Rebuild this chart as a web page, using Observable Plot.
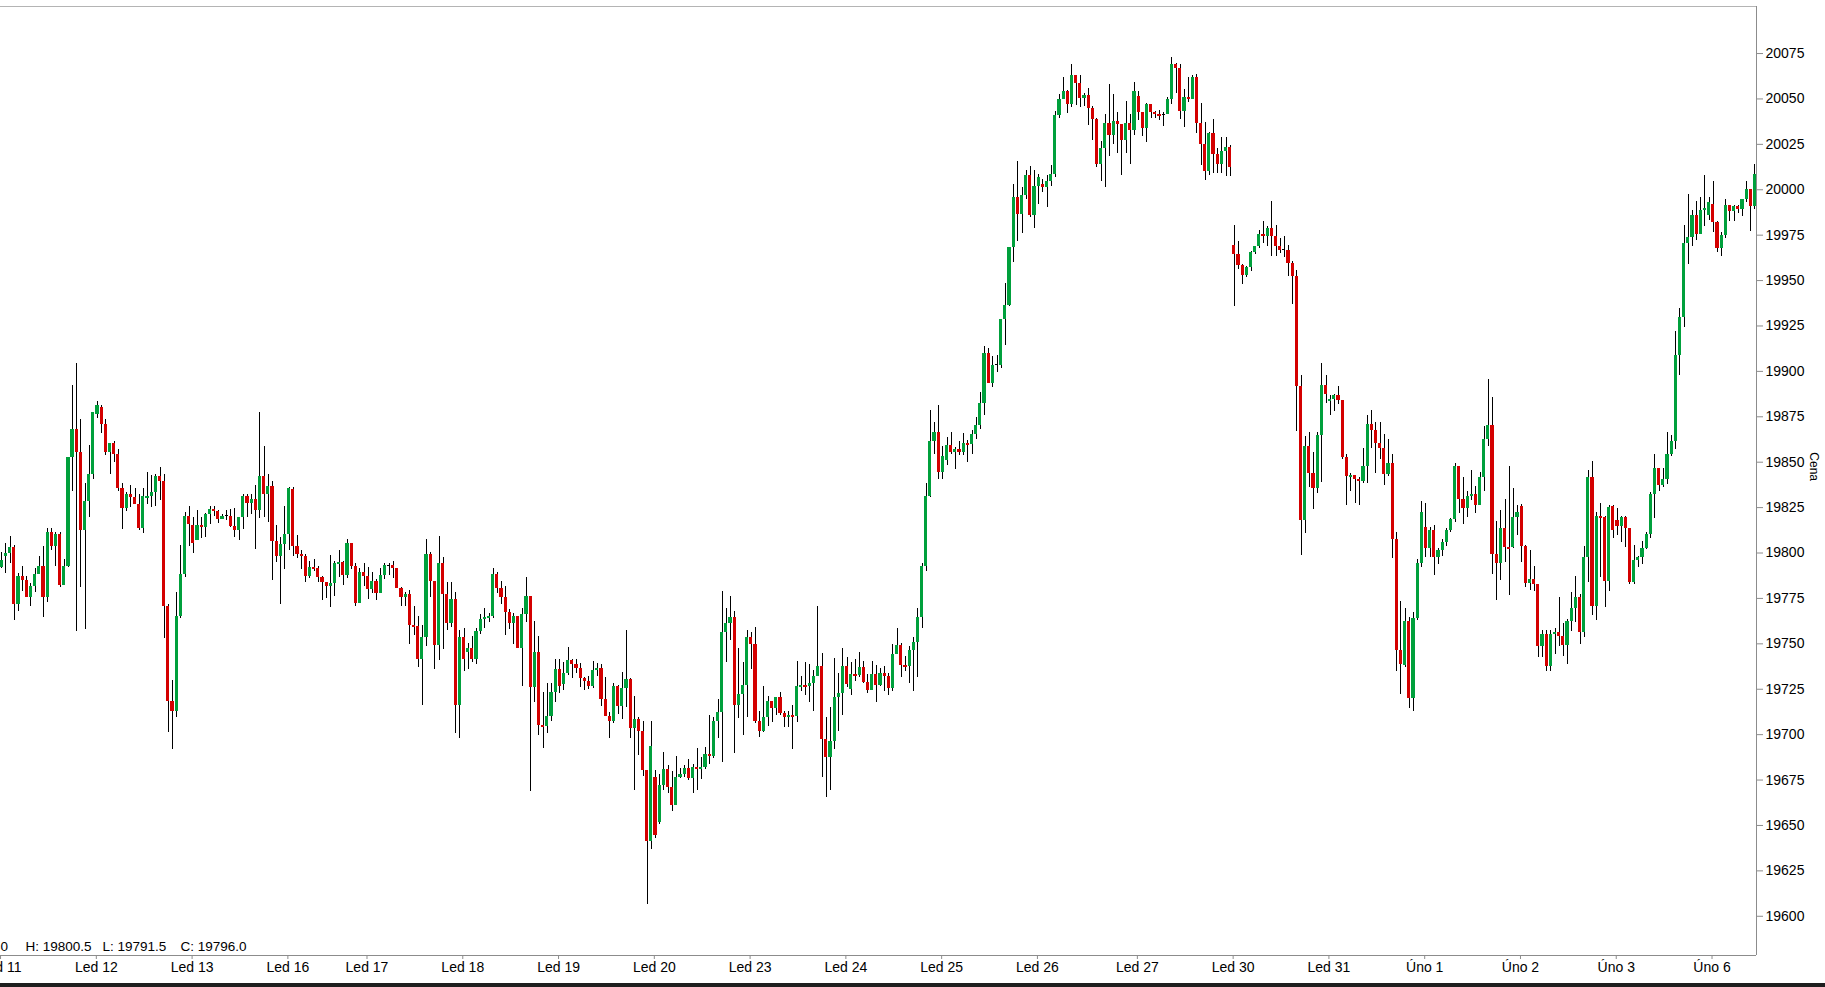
<!DOCTYPE html>
<html>
<head>
<meta charset="utf-8">
<script src="https://cdn.jsdelivr.net/npm/d3@7"></script>
<script src="https://cdn.jsdelivr.net/npm/@observablehq/plot@0.6"></script>
<style>
  html, body { margin: 0; padding: 0; background: #fff; }
  #chart { width: 1825px; height: 983px; }
  #bar { width: 1825px; height: 4px; background: #1e1e1e; }
</style>
</head>
<body>
<div id="chart"></div>
<div id="bar"></div>
<script>
// Day labels (x axis) and number of hourly candles in each day
const dayLabels = ["Led 11","Led 12","Led 13","Led 16","Led 17","Led 18","Led 19","Led 20","Led 23","Led 24","Led 25","Led 26","Led 27","Led 30","Led 31","Úno 1","Úno 2","Úno 3","Úno 6"];
const dayLengths = [23,23,23,19,23,23,23,23,23,23,23,24,23,23,23,23,23,23,11];

// Price axis ticks
const priceTicks = [19600,19625,19650,19675,19700,19725,19750,19775,19800,19825,19850,19875,19900,19925,19950,19975,20000,20025,20050,20075];

// Info line (bottom left)
const infoTexts = ["0", "H: 19800.5", "L: 19791.5", "C: 19796.0"];

const opens = [
// Led 11
19792,19798,19800,19803,19771.5,19787,19785,19775.5,19781.5,19788,19792.5,19775.5,19811.5,19803.5,19810,19782,19792.5,19852.5,19868,19855.5,19812.5,19828.5,19843,
// Led 12
19876,19880,19870.5,19855.5,19860.5,19854,19835.5,19824.5,19832,19830.5,19826.5,19813.5,19830,19831,19833.5,19842,19839.5,19770.5,19718.5,19712.5,19765,19788,19820,
// Led 13
19815,19807,19815,19814,19821,19824,19823,19818.5,19820,19820,19814.5,19812.5,19819.5,19831,19827.5,19829.5,19823.5,19842,19832,19836.5,19806.5,19798,19804.5,
// Led 16
19810,19835,19803.5,19799,19798,19787,19792,19791.5,19786.5,19783.5,19781.5,19783,19793.5,19795,19787.5,19805,19792.5,19772,19789,
// Led 17
19787,19780,19784.5,19777.5,19787.5,19792.5,19793,19791.5,19780.5,19775.5,19777,19760,19759.5,19741.5,19753.5,19799,19784.5,19749,19794,19777,19761,19774.5,19716,
// Led 18
19753.5,19745.5,19747.5,19741.5,19757,19763.5,19764,19765,19788,19780.5,19775.5,19767,19761,19765,19747.5,19766,19776,19726,19745,19705,19704.5,19710,19723,
// Led 19
19736,19727.5,19733.5,19741,19738.5,19736.5,19731,19729,19726.5,19735.5,19736.5,19719.5,19710,19707,19726.5,19715.5,19725.5,19730.5,19703.5,19708.5,19702,19680,19641,
// Led 20
19676.5,19651.5,19672,19681,19671,19661,19676.5,19678,19681.5,19676,19682,19681,19682,19689,19688,19707,19712,19756,19761,19764.5,19716,19722,19727,
// Led 23
19753.5,19749.5,19707,19702,19709.5,19718,19714.5,19720.5,19711.5,19709.5,19710.5,19710,19726,19727,19726.5,19728,19732,19737.5,19697.5,19687.5,19696,19720.5,19722.5,
// Led 24
19737.5,19725,19733,19732.5,19737,19728.5,19724.5,19733,19727,19733.5,19732,19725.5,19744,19749,19738,19737.5,19746.5,19751,19764.5,19792.5,19831,19861.5,19866.5,
// Led 25
19844.5,19851,19859,19855.5,19857,19855.5,19860.5,19860,19865,19870,19882.5,19910,19893.5,19903,19903,19928.5,19936.5,19968,19995.5,19986.5,19997,20008,19986,
// Led 26
20002,20003,20001,20004.5,20008.5,20041,20049.5,20054,20047,20063,20058.5,20050.5,20052,20045,20038.5,20014,20022.5,20036.5,20030,20037.5,20036,20027,20036.5,20032.5,
// Led 27
20051.5,20042.5,20034,20047,20042.5,20041.5,20041,20041.5,20049.5,20069,20067,20043,20051,20049.5,20062,20036.5,20025,20010,20031,20019.5,20014,20021,20023,
// Led 30
19969.5,19964.5,19958.5,19953,19957,19965.5,19968.5,19975.5,19974.5,19978.5,19974,19969,19966.5,19966.5,19959.5,19952.5,19891.5,19818,19858.5,19844,19835.5,19864.5,19892,
// Led 31
19883.5,19884.5,19886.5,19884,19852.5,19841.5,19842.5,19840.5,19839.5,19847.5,19870.5,19867.5,19860.5,19857.5,19843.5,19849.5,19807.5,19746.5,19738,19762.5,19720,19764,19794,
// Úno 1
19814,19802.5,19812.5,19797.5,19801.5,19806,19812.5,19818.5,19847.5,19829.5,19824.5,19831,19832,19826,19841.5,19862.5,19870,19799,19794,19813.5,19803,19803,19819.5,
// Úno 2
19825.5,19803.5,19783,19785.5,19782.5,19748.5,19755,19737.5,19755,19756,19754,19749,19762.5,19769.5,19775.5,19756,19797.5,19841.5,19770.5,19820,19819.5,19784.5,19825.5,
// Úno 3
19818,19814.5,19819.5,19813.5,19783.5,19796,19797.5,19802.5,19810,19832,19846.5,19837,19840.5,19854,19861.5,19909,19929.5,19970.5,19973.5,19986,19975.5,19988.5,19986,
// Úno 6
19992,19982,19967.5,19975,19991.5,19988,19991,19989,19994.5,20000,19991
];

const highs = [
19800.5,19805,19809,19804,19788.5,19792.5,19787,19783,19791.5,19798,19803.5,19813.5,19813.5,19811.5,19811.5,19796.5,19852.5,19892,19904.5,19873.5,19838.5,19859,19877.5,
19883.5,19881,19873.5,19860.5,19861.5,19857,19838.5,19833.5,19837,19835.5,19832,19835.5,19844.5,19842.5,19843.5,19847,19843.5,19771.5,19730,19778,19804,19822.5,19825.5,
19819.5,19823.5,19819.5,19821.5,19825.5,19825.5,19823.5,19821,19823.5,19824,19824.5,19819.5,19832,19832,19832,19837,19877.5,19858.5,19843,19839.5,19815,19808.5,19825.5,
19836,19836,19809.5,19801.5,19799,19795.5,19796.5,19792.5,19787,19783.5,19798.5,19795.5,19801.5,19795.5,19807.5,19805,19794,19791.5,19794,
19792,19789,19785.5,19791.5,19794,19794,19795.5,19791.5,19781,19778,19779.5,19770.5,19765,19760,19807.5,19800.5,19784.5,19809,19797.5,19783.5,19783.5,19778,19757.5,
19758.5,19750,19754,19758.5,19766,19769.5,19766.5,19791.5,19789,19784.5,19781.5,19769,19766.5,19765,19769.5,19786.5,19776,19762.5,19754,19723,19728,19728,19741.5,
19741.5,19739.5,19748,19741.5,19741.5,19739,19731.5,19732,19740,19739,19738.5,19731.5,19712,19728,19727,19734,19757.5,19731,19721,19709.5,19707,19680,19707,
19680,19678,19690,19683,19679.5,19688,19681.5,19683,19686.5,19683.5,19692.5,19687.5,19693,19710.5,19709.5,19719.5,19779,19769.5,19776,19768,19747.5,19739.5,19757.5,
19756,19759,19713,19726.5,19721,19718,19720.5,19723,19713,19712.5,19716,19740,19732,19739.5,19738.5,19735.5,19770.5,19744.5,19709.5,19715,19742,19733.5,19747.5,
19742.5,19739.5,19741.5,19745,19740,19733,19740,19738,19736.5,19737.5,19733.5,19749.5,19758.5,19750,19743,19748.5,19753.5,19769.5,19794,19838.5,19878.5,19872,19881,
19858.5,19863.5,19866.5,19858,19861.5,19866,19862,19867.5,19874.5,19888.5,19913.5,19912.5,19908,19909,19928.5,19948.5,19968,20003,20015.5,20001.5,20010.5,20013,20010.5,
20008.5,20005.5,20008,20013.5,20043,20052.5,20062,20054.5,20069,20063,20063,20053,20056,20046,20039.5,20026.5,20041.5,20058,20052.5,20042.5,20036,20048.5,20041.5,20059,
20054,20042.5,20047.5,20047,20043,20043.5,20042.5,20051,20073,20069.5,20069,20055,20062,20063,20063.5,20047.5,20037,20031.5,20038.5,20022.5,20029,20028.5,20024.5,
19980.5,19971.5,19959,19958,19966,19969,19977.5,19982.5,19979.5,19993.5,19980.5,19973,19974,19969.5,19960.5,19955.5,19897.5,19864,19866.5,19855.5,19866.5,19904.5,19897.5,
19886.5,19887,19891.5,19884,19854,19844,19842.5,19841.5,19857.5,19875.5,19878.5,19872,19872,19865,19862.5,19854,19811.5,19773.5,19769.5,19764.5,19767.5,19796.5,19828.5,
19827,19814,19815,19802.5,19807.5,19813.5,19819,19849.5,19847.5,19841.5,19834,19845.5,19836.5,19844.5,19869.5,19895.5,19885.5,19817.5,19823.5,19829.5,19847.5,19835.5,19826,
19826.5,19804,19801.5,19792.5,19782.5,19757.5,19757.5,19757.5,19758.5,19775.5,19761,19763.5,19778,19787,19777,19803.5,19845.5,19850.5,19822.5,19827.5,19820,19826,19826,
19824.5,19820,19820,19813.5,19804,19798,19806.5,19811.5,19833.5,19854,19846.5,19846.5,19866.5,19864.5,19922,19934.5,19980.5,19997.5,19988.5,19993.5,19996,20008,19996,
20004.5,19982.5,19976.5,19994.5,19991.5,19991.5,19991.5,19994.5,20004.5,20000,20014
];

const lows = [
19791.5,19788.5,19794,19763,19768,19779,19775.5,19770.5,19778,19788,19764.5,19772.5,19801.5,19792.5,19781,19782,19792,19834,19757,19781,19758,19819.5,19840.5,
19874,19866,19853.5,19843,19850,19834,19813,19823,19825,19826.5,19812.5,19811,19826.5,19825,19825.5,19829,19753,19701,19692,19709.5,19764,19786.5,19803.5,
19799.5,19807,19808,19808.5,19815.5,19820,19816.5,19818.5,19818,19814,19808.5,19807,19813,19819.5,19821,19802,19819,19819.5,19817,19785,19795,19771.5,19791,
19801.5,19798,19797,19791,19783.5,19786,19790,19783.5,19774,19775,19770,19776,19786.5,19782,19786,19791,19770.5,19772,19781.5,
19774.5,19777.5,19774,19777.5,19785.5,19787.5,19786,19780.5,19770.5,19770.5,19749.5,19754.5,19737,19716,19748.5,19775.5,19736,19741,19747,19757.5,19759,19700.5,19698,
19734.5,19736,19739.5,19738.5,19755,19758.5,19761.5,19764,19777.5,19771.5,19754.5,19758,19749.5,19747.5,19726.5,19761.5,19668.5,19717.5,19699.5,19692.5,19700.5,19707,19717.5,
19722.5,19724.5,19732.5,19731,19733.5,19726,19724.5,19725,19725.5,19732,19715.5,19710,19698,19706,19711,19708.5,19715,19698,19669.5,19688.5,19677,19606.5,19636.5,
19643,19650.5,19669.5,19667.5,19657.5,19661,19676,19676.5,19674.5,19667.5,19669.5,19675.5,19681,19683.5,19687,19698,19684.5,19739.5,19752,19689.5,19709,19699.5,19709.5,
19736,19706,19698.5,19701,19704.5,19706.5,19710.5,19710.5,19704,19704,19692,19706.5,19723.5,19721.5,19717.5,19712.5,19732,19676.5,19665.5,19669.5,19692,19701.5,19710.5,
19726,19721.5,19729,19731.5,19728,19722.5,19724.5,19717.5,19726.5,19723.5,19721.5,19723.5,19744,19731.5,19734.5,19728,19724,19731.5,19758.5,19790,19830.5,19854.5,19840.5,
19840.5,19848,19854.5,19846,19853.5,19853.5,19850,19854,19862.5,19868,19875.5,19893.5,19891,19899.5,19901.5,19914.5,19936,19960,19971.5,19976,19994.5,19984.5,19978.5,
19992,19998.5,19990.5,20002,20007,20039.5,20049.5,20042,20045.5,20046.5,20045.5,20046,20035.5,20027,20012.5,20004.5,20001.5,20018.5,20025,20020,20008,20020,20014,20030,
20038,20029.5,20026,20039.5,20039.5,20038,20035,20041.5,20047,20053,20038.5,20034.5,20048,20049.5,20031,20013.5,20005,20008,20009,20009,20009,20007.5,20007.5,
19936,19956,19948,19951.5,19955,19964.5,19967.5,19970.5,19969,19963,19963.5,19965,19962.5,19952,19937,19867,19798.5,19810.5,19836,19824,19832.5,19839,19882.5,
19875.5,19878,19882,19851.5,19826,19834,19827,19826,19838.5,19838,19857.5,19844,19851.5,19837,19842,19797,19735,19722,19737,19714.5,19713,19763,19792,
19797.5,19797.5,19787.5,19793.5,19798,19803.5,19811.5,19817,19821.5,19815.5,19819.5,19829,19821.5,19826,19834,19858.5,19788,19774,19785,19795,19776.5,19802.5,19809.5,
19795,19781,19779.5,19779,19742.5,19742.5,19734.5,19734.5,19744,19748.5,19743,19738.5,19757,19761.5,19749.5,19753.5,19783.5,19765.5,19763,19786.5,19770,19779,19808,
19809.5,19806,19803,19782.5,19782.5,19792,19793.5,19802,19808,19819,19834,19836,19837.5,19853,19857,19897.5,19924,19959,19969,19972,19975.5,19980,19983,
19976.5,19965.5,19963.5,19973,19982.5,19982.5,19987,19985.5,19993,19977,19989
];

const closes = [
19796,19800,19803,19771.5,19787,19785,19775.5,19781.5,19788,19792.5,19775.5,19811.5,19803.5,19810,19782,19792.5,19852.5,19868,19855.5,19812.5,19828.5,19843,19877.5,
19881,19870.5,19855.5,19860.5,19854,19835.5,19824.5,19832,19830.5,19826.5,19813.5,19831,19831,19833.5,19842,19839.5,19770.5,19718.5,19712.5,19765,19788,19820,19815.5,
19805.5,19815,19814,19821,19824,19823,19818.5,19820,19820,19814.5,19812.5,19819.5,19831,19827.5,19829.5,19823.5,19842,19832,19836.5,19806.5,19798,19804.5,19810,
19835.5,19803.5,19799,19798,19787,19792,19791,19786.5,19783.5,19781.5,19783,19794.5,19795,19787.5,19805,19792.5,19772,19789,19787,
19780,19784.5,19777.5,19787.5,19793,19792.5,19791.5,19780.5,19775.5,19777,19760,19759,19741.5,19753.5,19799,19784.5,19749,19794,19777,19761,19774.5,19716,19753.5,
19741.5,19747.5,19741.5,19757,19763.5,19764.5,19765,19788,19780.5,19775.5,19767,19761,19765,19747.5,19766,19776,19726,19745,19705,19704,19710,19723,19736,
19726.5,19733.5,19741,19738.5,19736.5,19731,19729,19726.5,19735.5,19736.5,19719.5,19710,19707,19726.5,19715.5,19725.5,19730.5,19703.5,19708.5,19702,19680,19641,19693.5,
19644.5,19672,19681,19671,19661,19676.5,19678,19681.5,19676,19682,19681,19682,19689,19688,19707,19712,19756,19761,19764.5,19716,19722,19727,19753.5,
19749.5,19707,19702,19709.5,19718,19714.5,19720.5,19711.5,19709.5,19710.5,19709.5,19726.5,19727,19726,19728,19732,19737.5,19697.5,19687.5,19696,19720.5,19722.5,19737.5,
19727.5,19733,19732,19737,19728.5,19724.5,19733,19727,19733.5,19732,19725.5,19744,19749,19738,19737,19746.5,19751,19764.5,19792.5,19831,19861.5,19866.5,19844.5,
19853,19859,19855.5,19857,19855.5,19860.5,19859,19865,19870,19882.5,19910,19893.5,19903,19903,19928.5,19936.5,19968,19995.5,19986.5,19997,20008,19986,20002,
20006.5,20001,20004.5,20008.5,20041,20049.5,20054,20047,20063,20058.5,20050.5,20052,20045,20038.5,20014,20022.5,20036.5,20030,20037.5,20036,20027,20036.5,20032.5,20054,
20042.5,20034,20047,20042.5,20041.5,20040.5,20041,20049.5,20069,20067,20043,20051,20049.5,20062,20036.5,20025,20010,20031,20019.5,20014,20021,20023,20012.5,
19964.5,19958.5,19953,19957,19965.5,19968.5,19975.5,19974.5,19978.5,19974,19969,19966.5,19966.5,19959.5,19952.5,19891.5,19818,19858.5,19844,19835.5,19864.5,19892,19887,
19884.5,19886.5,19884,19852.5,19842,19842.5,19840.5,19839.5,19847.5,19870.5,19867.5,19860.5,19857.5,19843.5,19849.5,19807.5,19746.5,19738.5,19762.5,19720,19764,19794,19822.5,
19802.5,19812.5,19797.5,19801.5,19806,19812.5,19818.5,19847.5,19829.5,19824.5,19831,19832,19826,19841.5,19862.5,19870,19799,19794,19813.5,19803,19802,19819.5,19822.5,
19803.5,19783,19785.5,19782.5,19748.5,19755,19737.5,19755,19756,19754,19749,19762.5,19769.5,19775.5,19756,19797.5,19841.5,19770.5,19820,19819,19784.5,19825,19812.5,
19814.5,19819.5,19813.5,19783.5,19796,19797.5,19802.5,19810,19832,19846.5,19837,19840.5,19854,19861.5,19909,19929.5,19970.5,19973.5,19986,19975.5,19988.5,19989.5,19993,
19982,19967.5,19975,19991.5,19988,19991,19989,19994.5,20000,19991,20008.5
];

// ---------- derived ----------
const n = opens.length;
const idx = d3.range(n);
const starts = [];
{ let s = 0; for (const len of dayLengths) { starts.push(s); s += len; } }
const tickPos = starts.map(s => s - 0.3);
const tickLabel = new Map(tickPos.map((p, i) => [p, dayLabels[i]]));

const GREEN = "#00a03c", RED = "#d40000";
const color = i => closes[i] > opens[i] ? GREEN : closes[i] < opens[i] ? RED : "#000";
const bodyLo = i => Math.min(opens[i], closes[i]);
const bodyHi = i => Math.max(opens[i], closes[i]) === Math.min(opens[i], closes[i]) ? Math.min(opens[i], closes[i]) + 0.6 : Math.max(opens[i], closes[i]);

const yMin = 19578.4, yMax = 20100.9;
const xMin = -0.31, xMax = n - 0.62;

const FONT = "'Liberation Sans', Arial, sans-serif";

const chart = Plot.plot({
  width: 1825,
  height: 983,
  marginLeft: 0,
  marginRight: 69,
  marginTop: 6,
  marginBottom: 28,
  style: { fontFamily: FONT, fontSize: "14px", color: "#000", background: "#fff", overflow: "visible" },
  x: { domain: [xMin, xMax] },
  y: { domain: [yMin, yMax] },
  marks: [
    // frame lines: top, right, bottom
    Plot.ruleY([yMax], { stroke: "#b4b4b4", strokeWidth: 1, shapeRendering: "crispEdges" }),
    Plot.ruleY([yMin], { stroke: "#8c8c8c", strokeWidth: 1, shapeRendering: "crispEdges" }),
    Plot.ruleX([xMax], { stroke: "#8c8c8c", strokeWidth: 1, shapeRendering: "crispEdges" }),
    // wicks
    Plot.ruleX(idx, { x: i => i, y1: i => lows[i], y2: i => highs[i], stroke: "#000", strokeWidth: 1, shapeRendering: "crispEdges" }),
    // bodies
    Plot.rect(idx, { x1: i => i - 0.38, x2: i => i + 0.38, y1: bodyLo, y2: bodyHi, fill: color, shapeRendering: "crispEdges" }),
    // axes
    Plot.axisY(priceTicks, { anchor: "right", tickSize: 6, tickPadding: 3, stroke: "#8c8c8c", fill: "#000", fontSize: 14, label: null, tickFormat: d => String(d) }),
    Plot.axisX(tickPos, { anchor: "bottom", tickSize: 4, tickPadding: 3, stroke: "#8c8c8c", fill: "#000", fontSize: 14, label: null, tickFormat: d => tickLabel.get(d) }),
    // y axis title
    Plot.text(["Cena"], { frameAnchor: "right", dx: 57, rotate: 90, fontSize: 12, fill: "#000" }),
    // info line
    Plot.text([infoTexts[0]], { frameAnchor: "bottom-left", dx: 0, dy: -5, textAnchor: "start", fontSize: 13.5, fill: "#000" }),
    Plot.text([infoTexts[1]], { frameAnchor: "bottom-left", dx: 25, dy: -5, textAnchor: "start", fontSize: 13.5, fill: "#000" }),
    Plot.text([infoTexts[2]], { frameAnchor: "bottom-left", dx: 102, dy: -5, textAnchor: "start", fontSize: 13.5, fill: "#000" }),
    Plot.text([infoTexts[3]], { frameAnchor: "bottom-left", dx: 180, dy: -5, textAnchor: "start", fontSize: 13.5, fill: "#000" })
  ]
});
document.getElementById("chart").appendChild(chart);
</script>
</body>
</html>
